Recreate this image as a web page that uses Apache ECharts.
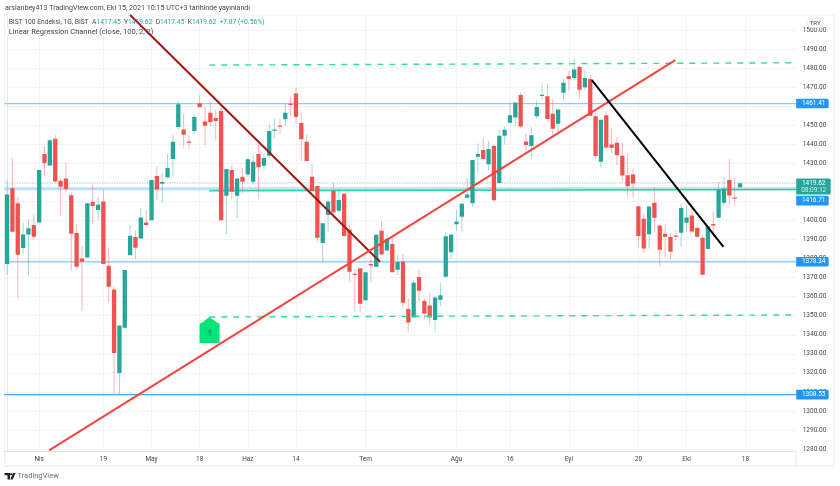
<!DOCTYPE html>
<html>
<head>
<meta charset="utf-8">
<style>html,body{margin:0;padding:0;background:#fff}#c{width:840px;height:486px;filter:blur(.25px)}</style>
<script src="https://cdn.jsdelivr.net/npm/echarts@6/dist/echarts.min.js"></script>
</head>
<body>
<div id="c"></div>
<script>
const opens=[1377.1,1416.9,1409.0,1385.5,1392.7,1397.6,1399.0,1434.9,1428.9,1442.9,
1420.9,1422.1,1413.2,1393.4,1380.1,1380.6,1409.7,1405.5,1410.0,1376.3,
1363.8,1319.9,1343.7,1381.7,1391.3,1390.6,1399.0,1400.1,1423.3,1419.3,
1422.6,1432.3,1449.1,1447.8,1441.5,1447.0,1461.5,1452.0,1456.6,1453.8,
1457.5,1413.0,1426.5,1413.0,1423.0,1424.2,1420.4,1434.9,1428.8,1434.0,
1447.5,1449.9,1453.1,1461.3,1466.7,1451.2,1441.4,1423.0,1418.1,1388.2,
1402.9,1415.5,1405.1,1414.1,1395.2,1372.1,1374.9,1358.1,1377.1,1375.7,
1394.6,1384.3,1387.6,1374.2,1378.5,1353.5,1349.0,1370.3,1357.7,1355.4,
1347.7,1358.4,1370.5,1383.3,1398.0,1402.0,1412.0,1409.0,1433.5,1437.0,
1429.5,1439.1,1419.7,1444.5,1451.3,1454.1,1465.9,1441.5,1439.1,1454.8,
1465.5,1465.3,1456.1,1450.8,1467.1,1475.8,1474.8,1480.6,1469.9,1474.3,
1454.8,1430.8,1455.3,1439.9,1440.8,1434.0,1423.8,1424.2,1407.5,1400.9,
1392.8,1409.3,1397.4,1393.0,1391.3,1392.1,1393.5,1398.8,1402.6,1396.0,
1390.9,1385.0,1398.1,1401.4,1409.3,1421.2,1412.1,1417.45];
const closes=[1413.7,1394.1,1382.0,1392.7,1395.9,1391.5,1426.5,1430.2,1442.2,1420.5,
1417.7,1416.5,1393.1,1375.7,1378.4,1409.0,1407.6,1408.3,1377.1,1365.2,
1330.4,1344.9,1374.0,1392.0,1385.7,1401.6,1397.6,1421.2,1416.3,1420.2,
1427.5,1441.4,1461.0,1445.0,1441.2,1454.3,1459.4,1449.8,1451.7,1452.2,
1400.1,1427.0,1415.1,1422.1,1420.4,1432.1,1430.9,1427.9,1432.8,1447.0,
1447.8,1449.2,1456.6,1460.8,1454.3,1442.6,1431.2,1415.5,1391.0,1398.5,
1409.9,1404.3,1410.7,1391.8,1373.1,1371.7,1356.3,1372.8,1376.6,1392.5,
1382.2,1390.4,1372.8,1378.2,1356.8,1346.5,1367.3,1363.1,1351.2,1349.0,
1359.6,1360.7,1391.7,1392.7,1399.5,1408.8,1413.7,1431.7,1434.9,1432.3,
1437.5,1410.6,1444.5,1447.7,1455.2,1462.0,1449.4,1439.6,1444.7,1459.6,
1466.0,1453.3,1448.2,1458.3,1472.3,1474.3,1479.3,1468.7,1474.8,1455.0,
1433.8,1452.9,1438.3,1438.2,1434.3,1423.6,1418.0,1419.4,1391.8,1385.3,
1407.4,1401.4,1384.6,1391.4,1383.6,1391.8,1406.5,1401.6,1394.2,1391.4,
1371.5,1397.0,1397.7,1416.3,1416.8,1413.1,1411.6,1419.62];
const lows=[1371.4,1394.1,1359.1,1382.4,1371.4,1389.7,1399.0,1423.3,1428.6,1419.8,
1402.3,1415.1,1373.6,1374.3,1352.5,1380.6,1398.1,1400.2,1377.1,1357.0,
1308.7,1308.7,1343.3,1381.7,1379.6,1390.6,1396.4,1400.1,1410.7,1409.3,
1422.6,1423.3,1447.5,1438.4,1437.7,1445.4,1459.4,1439.6,1449.2,1441.9,
1400.1,1392.9,1411.3,1401.1,1414.2,1422.6,1418.6,1411.3,1426.8,1432.6,
1443.1,1445.4,1449.6,1454.8,1451.0,1431.4,1431.2,1415.5,1388.9,1378.4,
1394.1,1401.1,1404.6,1391.8,1367.9,1351.6,1352.1,1357.9,1367.3,1375.7,
1382.2,1384.1,1372.8,1371.4,1354.7,1341.6,1349.0,1357.4,1348.1,1345.1,
1341.6,1355.1,1370.5,1379.9,1394.5,1394.1,1412.0,1407.2,1425.1,1431.4,
1426.1,1409.9,1419.7,1440.0,1451.0,1449.6,1448.4,1434.9,1432.4,1453.6,
1463.6,1452.0,1444.9,1444.0,1462.7,1468.1,1473.4,1464.1,1468.8,1454.8,
1432.6,1427.7,1436.9,1435.2,1429.1,1420.3,1412.4,1412.1,1385.8,1383.0,
1385.3,1394.1,1376.0,1380.6,1379.2,1389.7,1386.2,1394.1,1394.1,1391.1,
1371.5,1385.0,1391.4,1401.4,1407.7,1408.1,1407.7,1417.45];
const highs=[1421.6,1432.6,1412.5,1399.0,1400.6,1403.7,1426.5,1439.1,1442.9,1445.0,
1422.1,1430.3,1414.6,1398.1,1386.6,1409.0,1418.6,1412.5,1416.3,1385.9,
1365.2,1344.9,1374.0,1397.6,1394.6,1406.5,1405.8,1421.2,1428.2,1425.1,
1434.9,1444.9,1462.5,1456.2,1445.0,1455.7,1465.7,1459.8,1462.4,1458.0,
1459.8,1427.0,1429.1,1422.1,1427.4,1432.6,1434.4,1440.5,1435.2,1450.6,
1453.6,1453.6,1461.9,1465.0,1469.2,1456.6,1444.9,1429.6,1418.1,1398.5,
1411.1,1419.8,1416.0,1414.6,1397.6,1374.3,1374.9,1372.8,1379.6,1392.5,
1399.9,1392.4,1391.5,1381.9,1382.4,1359.1,1368.7,1374.0,1359.1,1362.3,
1360.3,1367.5,1393.6,1392.7,1405.5,1409.3,1422.5,1431.7,1440.5,1443.3,
1441.9,1440.0,1447.5,1449.2,1462.0,1462.0,1467.3,1445.7,1449.2,1462.9,
1472.5,1472.0,1463.8,1458.3,1474.6,1478.6,1484.9,1481.6,1478.6,1476.4,
1456.5,1452.9,1457.4,1448.0,1443.6,1441.0,1434.8,1427.3,1407.5,1403.7,
1407.4,1417.3,1397.4,1397.9,1393.2,1394.9,1408.9,1407.9,1406.8,1397.6,
1392.3,1397.0,1404.6,1420.0,1422.9,1432.2,1422.4,1419.62];

const xTickIndex=[6,18,27,36,45,54,67,84,94,105,118,127,138];
const xTickLabels=['Nis','19','May','18','Haz','14','Tem','Ağu','16','Eyl','20','Eki','18'];
const priceTicks=[1280,1290,1300,1310,1320,1330,1340,1350,1360,1370,1380,1390,1400,1410,1420,1430,1440,1450,1460,1470,1480,1490,1500];

const XMIN=-0.5, XMAX=147.5, YMIN=1278.6, YMAX=1507.9;
const levelA=1461.41, levelB=1416.71, levelC=1378.34, levelD=1308.55, lastPrice=1419.62;
const channelUp=[[7.85,1279.3],[124.9,1484.2]];
const channelDown=[[23.0,1507.9],[69.7,1378.3]];
const blackTrend=[[109.3,1473.7],[133.9,1386.2]];
const dashTop=[[37.8,1481.6],[XMAX,1482.8]];
const dashBottom=[[37.8,1349.3],[XMAX,1350.4]];
const greenLevel=[[37.8,1415.6],[XMAX,1416.3]];
const arrowAnchor=[[37.85,1349.3]];
const priceTags=[[levelA,'1461.41'],[levelC,'1378.34'],[levelD,'1308.55'],[levelB,'1416.71']];

const UP='#26a69a', DOWN='#ef5350', UPW='rgba(38,166,154,.42)', DOWNW='rgba(239,83,80,.42)';
const FONT='Roboto, "Noto Sans", sans-serif';
const TXT='#434651';
const candleData=opens.map((o,i)=>[i,o,closes[i],lows[i],highs[i]]);

function seg(name,pts,color,width,z,extra){
  return Object.assign({name,type:'line',data:pts,showSymbol:false,symbol:'none',silent:true,z,clip:true,
    lineStyle:{color,width},animation:false},extra||{});
}
function hline(name,v,color,width,z,extra){ return seg(name,[[XMIN,v],[XMAX,v]],color,width,z,extra); }

const chart=echarts.init(document.getElementById('c'),null,{renderer:'canvas'});
chart.setOption({
  animation:false,
  backgroundColor:'#fff',
  grid:{left:4.4,right:43.8,top:15,bottom:34.3,containLabel:false},
  xAxis:{type:'value',min:XMIN,max:XMAX,
    axisLine:{show:true,onZero:false,lineStyle:{color:'#dfe1e8',width:1}},
    axisTick:{show:false,customValues:xTickIndex},
    axisLabel:{customValues:xTickIndex,margin:4,fontSize:6.5,fontFamily:FONT,color:TXT,
      formatter:v=>xTickLabels[xTickIndex.indexOf(v)]||''},
    splitLine:{show:true,lineStyle:{color:'#f2f3f7',width:1}}},
  yAxis:{type:'value',position:'right',min:YMIN,max:YMAX,
    axisLine:{show:true,lineStyle:{color:'#e6e8ee',width:1}},
    axisTick:{show:false,customValues:priceTicks},
    axisLabel:{customValues:priceTicks,margin:6.5,fontSize:6.5,fontFamily:FONT,color:TXT,
      formatter:v=>v.toFixed(2)},
    splitLine:{show:true,lineStyle:{color:'#f2f3f7',width:1}}},
  series:[
    hline('level a',levelA,'#90caf9',1.3,1),
    hline('level b',levelB,'#bbdefb',3,1),
    hline('level c',levelC,'#a9d5f8',2,1),
    hline('level d',levelD,'#42a5f5',1.3,1),
    hline('last price',lastPrice,'rgba(38,166,154,.45)',1,1,{lineStyle:{color:'rgba(38,166,154,.45)',width:1,type:[1,1.5]}}),
    seg('green level',greenLevel,'#22d98e',1.6,1),
    {type:'custom',name:'candles',z:3,clip:true,data:candleData,encode:{x:0,y:[1,2,3,4]},animation:false,
      renderItem(params,api){
        const i=api.value(0),o=api.value(1),c=api.value(2),l=api.value(3),h=api.value(4);
        const up=c>=o, x=api.coord([i,o])[0];
        const yo=api.coord([i,o])[1],yc=api.coord([i,c])[1],yl=api.coord([i,l])[1],yh=api.coord([i,h])[1];
        const w=api.size([1,0])[0]*0.8;
        const top=Math.min(yo,yc),ht=Math.max(Math.abs(yo-yc),1.3);
        return {type:'group',children:[
          {type:'line',shape:{x1:x,y1:yh,x2:x,y2:yl},style:{stroke:up?UPW:DOWNW,lineWidth:1}},
          {type:'rect',shape:{x:x-w/2,y:top,width:w,height:ht},style:{fill:up?UP:DOWN}}
        ]};
      }},
    seg('down channel',channelDown,'#a31515',2,5),
    seg('up channel',channelUp,'#f4433a',1.9,5),
    seg('black trend',blackTrend,'#000000',2,5),
    seg('dash top',dashTop,'#2fe28f',1.4,4,{lineStyle:{color:'#2fe28f',width:1.4,type:[6,6]}}),
    seg('dash bottom',dashBottom,'#2fe28f',1.4,4,{lineStyle:{color:'#2fe28f',width:1.4,type:[6,6]}}),
    {type:'custom',name:'arrow',z:6,clip:false,data:arrowAnchor,encode:{x:0,y:1},animation:false,
      renderItem(params,api){
        const p=api.coord([api.value(0),api.value(1)]);
        return {type:'group',x:p[0],y:p[1],children:[
          {type:'polygon',shape:{points:[[0,0],[8,6],[10,6.5],[10,26],[-10,26],[-10,6.5],[-8,6]]},style:{fill:'#00e676'}},
          {type:'text',style:{text:'⇑',x:0,y:17,fill:'#0b8f5b',font:'9px "DejaVu Sans"',textAlign:'center',textVerticalAlign:'middle'}}
        ]};
      }},
    {type:'custom',name:'price tags',z:8,clip:false,data:priceTags.map(t=>[t[0]]),encode:{y:0},animation:false,
      renderItem(params,api){
        const v=api.value(0), t=priceTags[params.dataIndex];
        const gy=api.coord([XMAX,v]);
        const shift=t[1]==='1416.71'?12:0;
        return {type:'group',x:gy[0],y:gy[1]+shift,children:[
          {type:'rect',shape:{x:0,y:-4.8,width:32.5,height:9.6,r:[0,1.5,1.5,0]},style:{fill:'#2196f3'}},
          {type:'text',style:{text:t[1],x:17.5,y:0,fill:'#fff',font:'6.5px '+FONT,textAlign:'center',textVerticalAlign:'middle'}}
        ]};
      }},
    {type:'custom',name:'last tag',z:9,clip:false,data:[[lastPrice]],encode:{y:0},animation:false,
      renderItem(params,api){
        const p=api.coord([XMAX,api.value(0)]);
        return {type:'group',x:p[0],y:p[1],children:[
          {type:'rect',shape:{x:0,y:-4.6,width:34.5,height:16,r:[0,1.5,1.5,0]},style:{fill:'#26a69a'}},
          {type:'text',style:{text:lastPrice.toFixed(2),x:17.5,y:0,fill:'#fff',font:'6.5px '+FONT,textAlign:'center',textVerticalAlign:'middle'}},
          {type:'text',style:{text:'08:09:12',x:17.5,y:7.5,fill:'#d3f0ed',font:'6.5px '+FONT,textAlign:'center',textVerticalAlign:'middle'}}
        ]};
      }}
  ],
  graphic:[
    {type:'line',silent:true,shape:{x1:4.4,y1:15,x2:834,y2:15},style:{stroke:'#eef0f5',lineWidth:1}},
    {type:'line',silent:true,shape:{x1:4.4,y1:15,x2:4.4,y2:466},style:{stroke:'#eceef3',lineWidth:1}},
    {type:'line',silent:true,shape:{x1:4.4,y1:466,x2:834,y2:466},style:{stroke:'#e6e8ee',lineWidth:1}},
    {type:'line',silent:true,shape:{x1:796.2,y1:451.7,x2:796.2,y2:466},style:{stroke:'#e6e8ee',lineWidth:1}},
    {type:'line',silent:true,shape:{x1:834,y1:15,x2:834,y2:466},style:{stroke:'#eef0f5',lineWidth:1}},
    {type:'text',silent:true,x:5,y:8,style:{text:'arslanbey413 TradingView.com, Eki 15, 2021 10:15 UTC+3 tarihinde yayınlandı',fill:TXT,font:'7.1px '+FONT,textVerticalAlign:'middle'}},
    {type:'rect',silent:true,z:10,shape:{x:6,y:27.8,width:136,height:9},style:{fill:'#fff'}},
    {type:'text',silent:true,z:11,x:8.7,y:22.7,style:{rich:{d:{fill:TXT,font:'6.7px '+FONT},t:{fill:'#26a69a',font:'6.7px '+FONT}},
      text:'{d|BIST 100 Endeksi, 1G, BIST  A}{t|1417.45}{d|  Y}{t|1419.62}{d|  D}{t|1417.45}{d|  K}{t|1419.62}{t|  +7.87 (+0.56%)}',textVerticalAlign:'middle'}},
    {type:'text',silent:true,z:11,x:8.7,y:32.3,style:{text:'Linear Regression Channel (close, 100, 2, 2)',fill:TXT,font:'7.5px '+FONT,textVerticalAlign:'middle'}},
    {type:'rect',silent:true,z:20,shape:{x:808,y:19,width:14.5,height:8.5,r:1.5},style:{fill:'#fff',stroke:'#e0e3eb',lineWidth:.8}},
    {type:'text',silent:true,z:21,x:815.2,y:23.3,style:{text:'TRY',fill:TXT,font:'6.2px '+FONT,textAlign:'center',textVerticalAlign:'middle'}},
    {type:'polygon',silent:true,shape:{points:[[4.5,473],[10,473],[10,479.5],[7.5,479.5],[7.5,475.3],[4.5,475.3]]},style:{fill:'#1e222d'}},
    {type:'circle',silent:true,shape:{cx:11.2,cy:474.2,r:1.1},style:{fill:'#1e222d'}},
    {type:'polygon',silent:true,shape:{points:[[13,473],[15.5,473],[12.8,479.5],[10.3,479.5]]},style:{fill:'#1e222d'}},
    {type:'text',silent:true,x:17.5,y:476.5,style:{text:'TradingView',fill:'#6a6d78',font:'7.5px '+FONT,textVerticalAlign:'middle'}}
  ]
});
</script>
</body>
</html>
